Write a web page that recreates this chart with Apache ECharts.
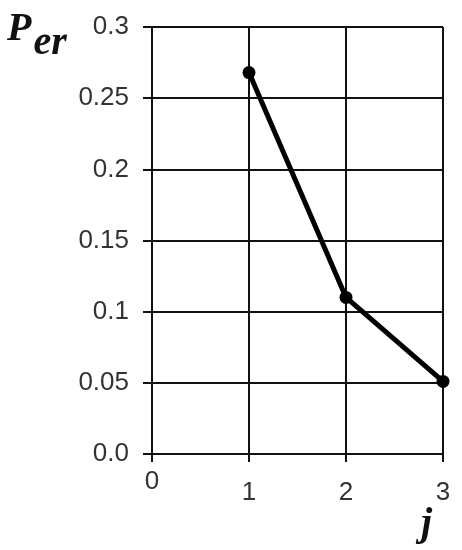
<!DOCTYPE html>
<html>
<head>
<meta charset="utf-8">
<script src="https://cdn.jsdelivr.net/npm/echarts@6/dist/echarts.min.js"></script>
<style>
  html, body { margin: 0; padding: 0; background: #fff; }
  #chart { width: 462px; height: 550px; }
</style>
</head>
<body>
<div id="chart"></div>
<script>
// data
const jValues = [1, 2, 3];
const perValues = [0.268, 0.110, 0.051];
const yTickLabels = ['0.0', '0.05', '0.1', '0.15', '0.2', '0.25', '0.3'];
const xTickLabels = ['0', '1', '2', '3'];

const labelFont = 'Liberation Sans, Arial, sans-serif';
const chart = echarts.init(document.getElementById('chart'));

chart.setOption({
  backgroundColor: '#fff',
  animation: false,
  grid: {
    left: 152,
    right: 19,
    top: 27,
    bottom: 96
  },
  xAxis: {
    type: 'value',
    min: 0,
    max: 3,
    interval: 1,
    axisLine: { show: true, onZero: false, lineStyle: { color: '#111', width: 2 } },
    axisTick: { show: true, length: 8, lineStyle: { color: '#111', width: 2 } },
    splitLine: { show: true, lineStyle: { color: '#111', width: 2 } },
    axisLabel: {
      margin: 15,
      color: '#333',
      fontFamily: labelFont,
      fontSize: 26,
      formatter: function (v) {
        const s = xTickLabels[Math.round(v)];
        return v === 0 ? '{z|' + s + '}' : '{n|' + s + '}';
      },
      rich: {
        z: { fontSize: 26, color: '#333', fontFamily: labelFont },
        n: { fontSize: 26, color: '#333', fontFamily: labelFont, padding: [11, 0, 0, 0] }
      }
    }
  },
  yAxis: {
    type: 'value',
    min: 0,
    max: 0.3,
    interval: 0.05,
    axisLine: { show: true, lineStyle: { color: '#111', width: 2 } },
    axisTick: { show: true, length: 9, lineStyle: { color: '#111', width: 2 } },
    splitLine: { show: true, lineStyle: { color: '#111', width: 2 } },
    axisLabel: {
      margin: 23,
      color: '#333',
      fontFamily: labelFont,
      fontSize: 26,
      formatter: function (v) {
        return yTickLabels[Math.round(v / 0.05)];
      }
    }
  },
  graphic: [
    {
      type: 'text',
      left: 7,
      top: 10,
      style: {
        text: '{p|P}{s|er}',
        rich: {
          p: { fontFamily: 'Liberation Serif, Times New Roman, serif', fontStyle: 'italic', fontWeight: 'bold', fontSize: 40, fill: '#111' },
          s: { fontFamily: 'Liberation Serif, Times New Roman, serif', fontStyle: 'italic', fontWeight: 'bold', fontSize: 40, fill: '#111', padding: [28, 0, 0, 2] }
        }
      }
    },
    {
      type: 'text',
      left: 421,
      top: 505,
      style: {
        text: 'j',
        fontFamily: 'Liberation Serif, Times New Roman, serif',
        fontStyle: 'italic',
        fontWeight: 'bold',
        fontSize: 40,
        fill: '#111'
      }
    }
  ],
  series: [{
    type: 'line',
    data: jValues.map(function (j, i) { return [j, perValues[i]]; }),
    symbol: 'circle',
    symbolSize: 13,
    lineStyle: { color: '#000', width: 5 },
    itemStyle: { color: '#000' }
  }]
});
</script>
</body>
</html>
